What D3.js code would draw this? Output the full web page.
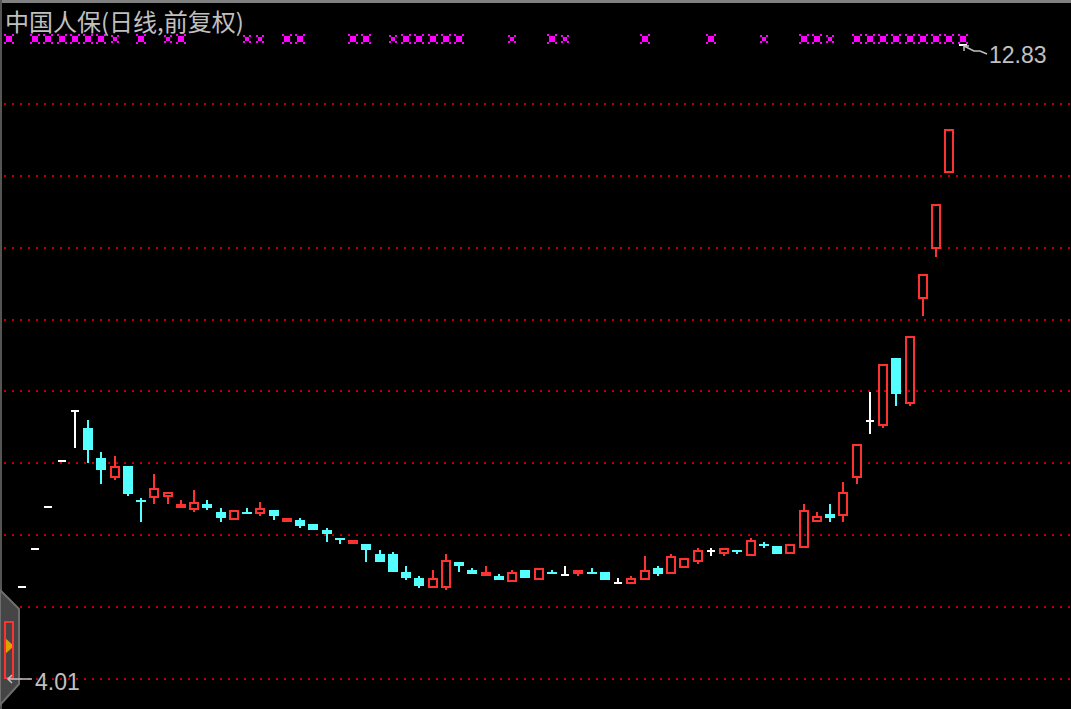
<!DOCTYPE html>
<html><head><meta charset="utf-8">
<script src="https://cdn.jsdelivr.net/npm/d3@7"></script>
<style>html,body{margin:0;padding:0;background:#000;overflow:hidden}</style>
</head><body>
<svg id="c" width="1071" height="709"></svg>
<script>
const title = "中国人保(日线,前复权)";
const opens  = [4.01,5.29,5.82,6.40,7.04,7.74,7.50,7.08,6.81,6.97,6.50,6.53,6.54,6.39,6.36,6.45,6.33,6.22,6.33,6.31,6.36,6.19,6.22,6.17,6.08,5.97,5.89,5.89,5.75,5.75,5.50,5.42,5.28,5.28,5.64,5.53,5.44,5.44,5.36,5.53,5.39,5.50,5.46,5.47,5.50,5.50,5.35,5.33,5.39,5.55,5.47,5.55,5.64,5.79,5.75,5.80,5.72,5.89,5.86,5.75,5.83,6.19,6.30,6.28,6.81,7.60,7.53,8.48,7.84,9.30,9.99,11.05,12.83];
const highs  = [4.81,5.29,5.82,6.40,7.04,7.74,7.61,7.17,7.11,6.97,6.53,6.86,6.61,6.50,6.64,6.50,6.39,6.36,6.39,6.47,6.36,6.25,6.25,6.17,6.11,5.97,5.94,5.89,5.80,5.78,5.58,5.44,5.53,5.75,5.64,5.55,5.58,5.47,5.53,5.53,5.55,5.52,5.58,5.53,5.55,5.50,5.42,5.44,5.72,5.58,5.75,5.69,5.83,5.83,5.83,5.80,5.97,5.92,5.86,5.89,6.44,6.33,6.44,6.75,7.28,8.00,8.39,8.48,8.78,9.64,10.62,11.66,12.83];
const lows   = [4.01,5.29,5.82,6.40,7.04,7.23,7.01,6.72,6.78,6.56,6.19,6.44,6.44,6.39,6.33,6.36,6.19,6.22,6.31,6.28,6.22,6.19,6.11,6.08,5.92,5.89,5.89,5.64,5.64,5.50,5.39,5.28,5.28,5.25,5.50,5.47,5.44,5.39,5.36,5.42,5.39,5.47,5.46,5.44,5.47,5.39,5.35,5.33,5.39,5.44,5.47,5.55,5.61,5.72,5.72,5.75,5.72,5.83,5.75,5.75,5.83,6.19,6.19,6.19,6.72,7.42,7.50,7.81,7.81,9.06,9.88,11.05,12.83];
const closes = [4.81,5.29,5.82,6.40,7.04,7.74,7.20,6.92,6.97,6.58,6.49,6.67,6.61,6.45,6.47,6.39,6.25,6.36,6.31,6.39,6.28,6.25,6.14,6.08,6.03,5.94,5.94,5.80,5.64,5.50,5.42,5.30,5.42,5.67,5.58,5.47,5.50,5.39,5.50,5.42,5.55,5.48,5.46,5.53,5.49,5.39,5.35,5.42,5.53,5.47,5.72,5.69,5.80,5.79,5.83,5.78,5.94,5.87,5.75,5.89,6.36,6.28,6.25,6.61,7.28,7.60,8.39,7.97,8.78,9.64,10.62,11.66,12.83];
const bigMarks   = [0,2,3,4,5,6,7,10,13,21,22,26,27,30,31,32,33,34,41,48,53,60,61,64,65,66,67,68,69,70,71,72];
const smallMarks = [8,12,18,19,29,38,42,57,62];
const gridLevels = [4.01,5.01,6.01,7.01,8.01,9.01,10.01,11.01,12.01];
const maxLabel = "12.83", minLabel = "4.01";

const W = 1071, H = 709;
const RED = "#ff3232", CYAN = "#54ffff", WHITE = "#ffffff", GREY = "#c0c0c0";
const svg = d3.select("#c").attr("shape-rendering","crispEdges");
svg.append("rect").attr("width",W).attr("height",H).attr("fill","#000");

const n = opens.length;
const step = 13.25;
const x = d3.scaleBand().domain(d3.range(n)).range([1.875, 1.875 + n*step]).padding(0);
const y = d3.scaleLinear().domain([4.01, 12.83]).range([679, 45]);
const cx = i => Math.round(x(i) + x.bandwidth()/2);
const py = v => Math.round(y(v));

// frame
svg.append("rect").attr("x",0).attr("y",0).attr("width",W).attr("height",3).attr("fill","#808080");
svg.append("rect").attr("x",0).attr("y",0).attr("width",2).attr("height",H).attr("fill","#555");

// grid
svg.append("g").selectAll("line").data(gridLevels).join("line")
  .attr("x1",4).attr("x2",W).attr("y1",d=>py(d)).attr("y2",d=>py(d))
  .attr("stroke","#c00000").attr("stroke-width",2).attr("stroke-dasharray","2 6");

// handle at bottom-left
svg.append("polygon").attr("points","0,590 19,609 19,684 0,705")
  .attr("fill","#454545").attr("stroke","#6e6e6e").attr("stroke-width",2)
  .attr("shape-rendering","auto");
svg.append("polygon").attr("points","4,637 14,646 4,655").attr("fill","#e0a000").attr("shape-rendering","auto");

// candles
const g = svg.append("g");
d3.range(n).forEach(i => {
  const o = opens[i], c = closes[i], h = highs[i], l = lows[i];
  const X = cx(i);
  const yH = py(h), yL = py(l);
  if (o === c) {
    if (yL > yH) g.append("rect").attr("x",X-1).attr("y",yH).attr("width",2).attr("height",yL-yH).attr("fill",WHITE);
    g.append("rect").attr("x",X-4).attr("y",py(o)-1).attr("width",8).attr("height",2).attr("fill",WHITE);
  } else if (c > o) {
    const top = py(c), bot = py(o);
    if (top > yH) g.append("rect").attr("x",X-1).attr("y",yH).attr("width",2).attr("height",top-yH).attr("fill",RED);
    if (yL > bot) g.append("rect").attr("x",X-1).attr("y",bot).attr("width",2).attr("height",yL-bot).attr("fill",RED);
    const hh = bot - top;
    if (hh <= 4) {
      g.append("rect").attr("x",X-5).attr("y",top).attr("width",10).attr("height",Math.max(2,hh)).attr("fill",RED);
    } else {
      g.append("rect").attr("x",X-4).attr("y",top+1).attr("width",8).attr("height",hh-2)
        .attr("fill","none").attr("stroke",RED).attr("stroke-width",2);
    }
  } else {
    const top = py(o), bot = py(c);
    if (yL > yH) g.append("rect").attr("x",X-1).attr("y",yH).attr("width",2).attr("height",yL-yH).attr("fill",CYAN);
    g.append("rect").attr("x",X-5).attr("y",top).attr("width",10).attr("height",Math.max(2,bot-top)).attr("fill",CYAN);
  }
});

// markers
const my = 39;
const mk = svg.append("g").attr("fill","#ff00ff");
function marker(i, big) {
  const X = cx(i) + 0;
  const s = big ? 3 : 2, e = big ? 5 : 4;
  mk.append("rect").attr("x",X-s).attr("y",my-s).attr("width",2*s).attr("height",2*s);
  [[-e,-e],[e-2,-e],[-e,e-2],[e-2,e-2]].forEach(([dx,dy]) =>
    mk.append("rect").attr("x",X+dx).attr("y",my+dy).attr("width",2).attr("height",2));
}
bigMarks.forEach(i => marker(i, true));
smallMarks.forEach(i => marker(i, false));

// title
svg.append("text").attr("x",5).attr("y",31).text(title)
  .attr("font-family","'Noto Sans CJK SC', sans-serif").attr("font-size",24).attr("fill",GREY);

// max label
const iMax = d3.maxIndex(highs), iMin = d3.minIndex(lows);
const tx = cx(iMax) + 1, ty = py(highs[iMax]) + 1;
const lab = svg.append("g").attr("stroke",GREY).attr("stroke-width",1.5).attr("fill","none").attr("shape-rendering","auto");
lab.append("path").attr("d",`M${tx},${ty} L${tx+10},${ty+5} L${tx+16},${ty+5} L${tx+23},${ty+8}`);
lab.append("path").attr("d",`M${tx+5},${ty} L${tx},${ty} L${tx},${ty+5}`);
svg.append("text").attr("x",tx+25).attr("y",63).text(maxLabel)
  .attr("font-family","'Liberation Sans', Arial, sans-serif").attr("font-size",23).attr("fill",GREY);

// min label
const bx = cx(iMin) - 1, by = py(lows[iMin]);
lab.append("path").attr("d",`M${bx},${by} L${bx+24},${by}`);
lab.append("path").attr("d",`M${bx+4},${by-4} L${bx},${by} L${bx+4},${by+4}`);
svg.append("text").attr("x",bx+27).attr("y",690).text(minLabel)
  .attr("font-family","'Liberation Sans', Arial, sans-serif").attr("font-size",23).attr("fill",GREY);
</script>
</body></html>
